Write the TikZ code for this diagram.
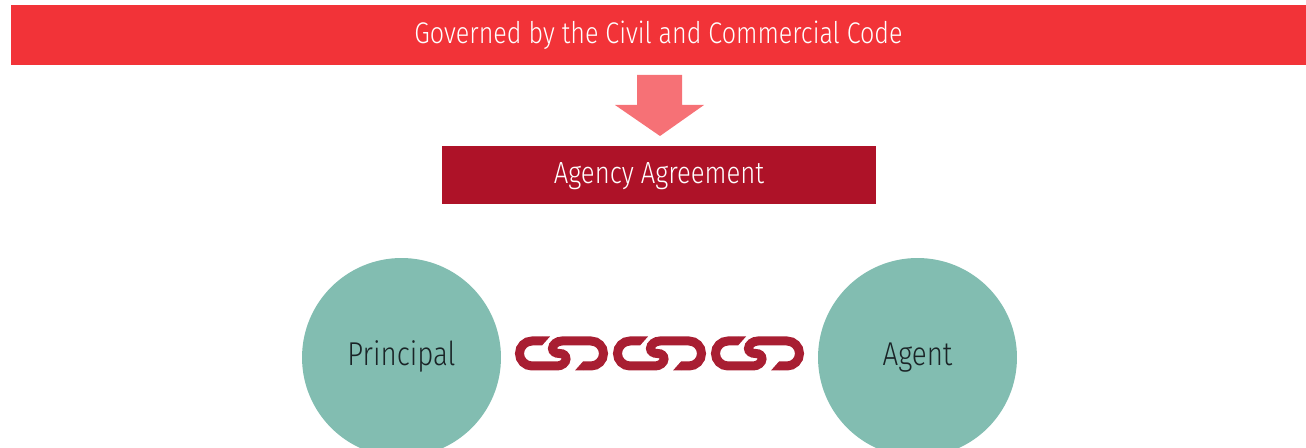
\documentclass[tikz,border=0pt]{standalone}
\usepackage{fontspec}
\setmainfont[FakeStretch=0.84]{Fira Sans Light}
\usepackage{tikz}

\definecolor{codered}{HTML}{F23338}
\definecolor{arrowred}{HTML}{F67176}
\definecolor{agreered}{HTML}{AE1228}
\definecolor{linkred}{HTML}{A81E32}
\definecolor{partygreen}{HTML}{82BDB1}
\definecolor{partytext}{HTML}{1A2326}

\tikzset{
    banner/.style = {fill=codered, text=white, minimum width=25.90cm, minimum height=1.20cm, inner sep=0pt, text height=0.44cm, text depth=0.10cm, font=\fontsize{17}{20}\selectfont},
    agreement/.style = {fill=agreered, text=white, minimum width=8.68cm, minimum height=1.16cm, inner sep=0pt, text height=0.44cm, text depth=0.10cm, font=\fontsize{17.4}{20}\selectfont},
    party/.style = {circle, fill=partygreen, text=partytext, minimum size=3.98cm, inner sep=0pt, text height=0.44cm, text depth=0.10cm, font=\fontsize{18.8}{22}\selectfont},
    chainlink/.style = {draw=linkred, line width=0.18cm, line cap=butt}
}

\begin{document}
\begin{tikzpicture}[x=0.02cm,y=-0.02cm]

    % Canvas
    \path[clip] (0,0) rectangle (1306,448);

    % Nodes
    \node[banner] at (658.5,35) (code) {Governed by the Civil and Commercial Code};
    \node[agreement] at (659,175) (agreement) {Agency Agreement};
    \node[party] at (401.5,357.5) (principal) {Principal};
    \node[party] at (917.5,357.5) (agent) {Agent};

    % Arrow
    \fill[arrowred] (637,75) -- (682,75) -- (682,105) -- (704,105) -- (660,136) -- (615,105) -- (637,105) -- cycle;

    % Chain
    \foreach \xpos in {515,613,711}
    {
        \begin{scope}[shift={(\xpos,336)}]
            \draw[chainlink] (27,5) -- (17,5) .. controls (10.1,5) and (4.5,10.6) .. (4.5,17.5)
                .. controls (4.5,24.4) and (10.1,30) .. (17,30) -- (42,30)
                .. controls (47,30) and (51,26.5) .. (51,23)
                .. controls (51,19.5) and (48.5,17.5) .. (44.5,17.5)
                .. controls (40.5,17.5) and (37.5,15.5) .. (37.5,12.5)
                .. controls (37.5,8.5) and (42,5) .. (47,5) -- (76,5)
                .. controls (82.9,5) and (88.5,10.6) .. (88.5,17.5)
                .. controls (88.5,24.4) and (82.9,30) .. (76,30) -- (68,30);
            \fill[linkred] (27,0.5) -- (35,0.5) -- (27,9.5) -- cycle;
            \fill[linkred] (68,34.5) -- (60,34.5) -- (68,25.5) -- cycle;
        \end{scope}
    }

\end{tikzpicture}
\end{document}
